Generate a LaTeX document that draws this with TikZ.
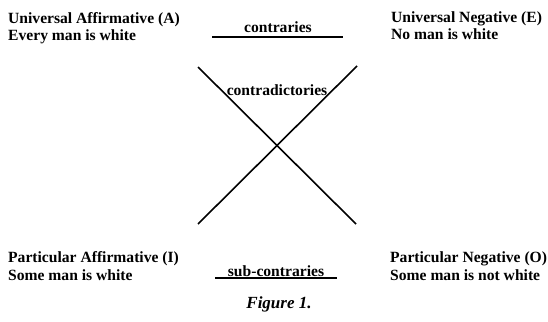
\documentclass[tikz,border=0pt]{standalone}
\usepackage{fontspec}
\setmainfont{Liberation Serif}
\begin{document}
\begin{tikzpicture}[x=1pt,y=-1pt,
  lbl/.style={inner sep=0pt, anchor=base west, font=\fontsize{15.6}{18}\selectfont\bfseries},
  mid/.style={inner sep=0pt, anchor=base, font=\fontsize{15.6}{18}\selectfont\bfseries},
  cross/.style={line width=1.6pt},
  uline/.style={line width=1.3pt}]
\useasboundingbox[fill=white] (0,0) rectangle (548,321);
% corner labels
\node[lbl] (Atitle) at (8,24) {Universal Affirmative (A)};
\node[lbl] (Atext)  at (8,41) {Every man is white};
\node[lbl] (Etitle) at (391,23) {Universal Negative (E)};
\node[lbl] (Etext)  at (391,40) {No man is white};
\node[lbl] (Ititle) at (8,262) {Particular Affirmative (I)};
\node[lbl] (Itext)  at (8,280) {Some man is white};
\node[lbl] (Otitle) at (390,262) {Particular Negative (O)};
\node[lbl] (Otext)  at (390,280) {Some man is not white};
% relations
\node[mid] (contr) at (278,33) {contraries};
\coordinate (cL) at (212,37);
\coordinate (cR) at (343,37);
\draw[uline] (cL) -- (cR);
\node[mid] (subc) at (276,276) {sub-contraries};
\coordinate (sL) at (215,278);
\coordinate (sR) at (337,278);
\draw[uline] (sL) -- (sR);
% diagonals
\coordinate (TL) at (198,67);
\coordinate (BR) at (356,224);
\coordinate (TR) at (357,66);
\coordinate (BL) at (198,224);
\draw[cross] (TL) -- (BR);
\draw[cross] (TR) -- (BL);
\node[mid] (contrad) at (277,95) {contradictories};
% caption
\node[inner sep=0pt, anchor=base, font=\fontsize{17}{20}\selectfont\itshape\bfseries] (cap) at (279,308) {Figure 1.};
\end{tikzpicture}
\end{document}
